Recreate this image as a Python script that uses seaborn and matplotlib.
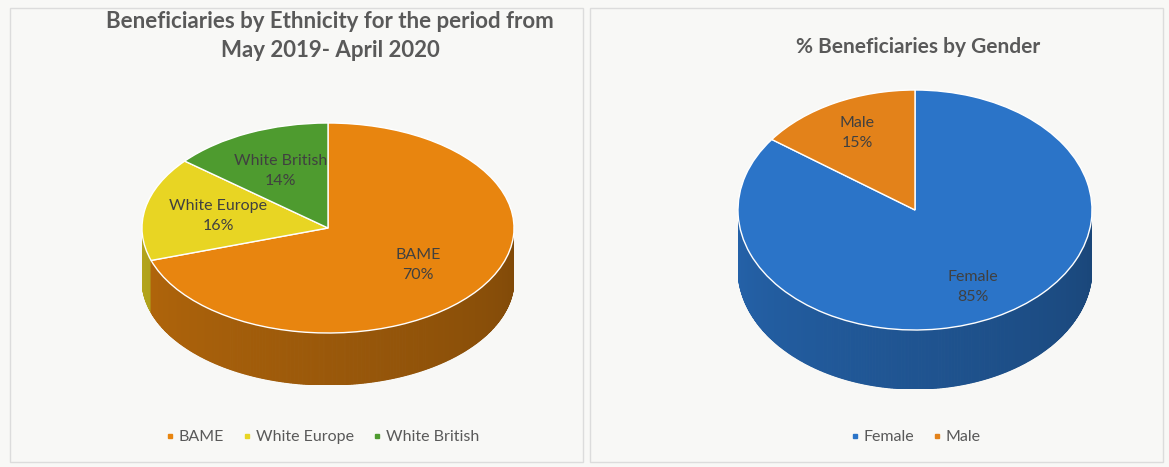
import numpy as np
import matplotlib
matplotlib.use("Agg")
import matplotlib.pyplot as plt
import seaborn as sns
from matplotlib.lines import Line2D
from matplotlib.patches import Polygon, Rectangle
import matplotlib.colors as mcolors

# ---- data ----
eth_labels = ["BAME", "White Europe", "White British"]
eth_values = [70, 16, 14]
eth_colors = ["#E8850F", "#E8D523", "#4E9B2F"]
eth_title = "Beneficiaries by Ethnicity for the period from\nMay 2019- April 2020"

gen_labels = ["Female", "Male"]
gen_values = [85, 15]
gen_colors = ["#2B74C8", "#E3821A"]
gen_title = "% Beneficiaries by Gender"

sns.set_theme(style="white")
plt.rcParams['font.family'] = ['Lato', 'DejaVu Sans']

W, H = 1169, 467
fig = plt.figure(figsize=(W / 100, H / 100), dpi=100)
fig.patch.set_facecolor("#f8f8f6")


def pie3d(cx, cy, rx, ry, depth, values, labels, colors, labeldist, shade_l, shade_r):
    d = depth / ry
    ax = fig.add_axes([(cx - rx) / W, 1 - (cy + ry + depth) / H,
                       2 * rx / W, (2 * ry + depth) / H])
    ax.set_axis_off()
    texts = [f"{l}\n{v}%" for l, v in zip(labels, values)]
    wedges, tx = ax.pie(values, colors=colors, startangle=90, counterclock=False,
                        labels=texts, labeldistance=labeldist,
                        wedgeprops=dict(edgecolor="white", linewidth=1.0),
                        textprops=dict(color="#404040", fontsize=11.5, linespacing=1.6))
    for t in tx:
        t.set_ha("center")
        t.set_va("center")
    # side of the 3D pie
    cum = np.cumsum(values) / np.sum(values)
    angles = np.arange(180, 360.01, 0.5)
    for t0, t1 in zip(angles[:-1], angles[1:]):
        tm = 0.5 * (t0 + t1)
        frac = ((90 - tm) % 360) / 360
        idx = min(int(np.searchsorted(cum, frac, side="right")), len(values) - 1)
        s = shade_l + (shade_r - shade_l) * (tm - 180) / 180
        rgb = np.array(mcolors.to_rgb(colors[idx])) * s
        r0, r1 = np.radians(t0), np.radians(t1)
        pts = [(np.cos(r0), np.sin(r0)), (np.cos(r1), np.sin(r1)),
               (np.cos(r1), np.sin(r1) - d), (np.cos(r0), np.sin(r0) - d)]
        ax.add_patch(Polygon(pts, closed=True, facecolor=rgb, edgecolor=rgb,
                             lw=0.8, zorder=0.5))
    ax.set_aspect("auto")
    ax.set_xlim(-1, 1)
    ax.set_ylim(-1 - d, 1)
    return ax


pie3d(328, 228, 186, 105, 52, eth_values, eth_labels, eth_colors, 0.6, 0.78, 0.55)
pie3d(915, 210, 177, 120, 59, gen_values, gen_labels, gen_colors, 0.72, 0.85, 0.60)

# titles
fig.text(330 / W, 1 - 36 / H, eth_title, ha="center", va="center", fontsize=16,
         weight="bold", color="#595959", linespacing=1.45)
fig.text(918 / W, 1 - 47 / H, gen_title, ha="center", va="center", fontsize=15,
         weight="bold", color="#595959")

# legends
def legend(cx, labels, colors, ncol):
    handles = [Line2D([], [], marker="s", ls="", color=c, markersize=3.5) for c in colors]
    fig.legend(handles, labels, loc="center", bbox_to_anchor=(cx / W, 1 - 437 / H),
               ncol=ncol, frameon=False, fontsize=11.5, handletextpad=0.2,
               columnspacing=1.1, labelcolor="#595959", handlelength=0.7)

legend(322, eth_labels, eth_colors, 3)
legend(915, gen_labels, gen_colors, 2)

# panel borders
for x0, x1 in [(10, 583), (590, 1163)]:
    fig.add_artist(Rectangle((x0 / W, 1 - 462 / H), (x1 - x0) / W, (462 - 8) / H,
                             transform=fig.transFigure, fill=False,
                             edgecolor="#dcdcdc", lw=1))

fig.savefig("out.png", dpi=100, facecolor=fig.get_facecolor())
